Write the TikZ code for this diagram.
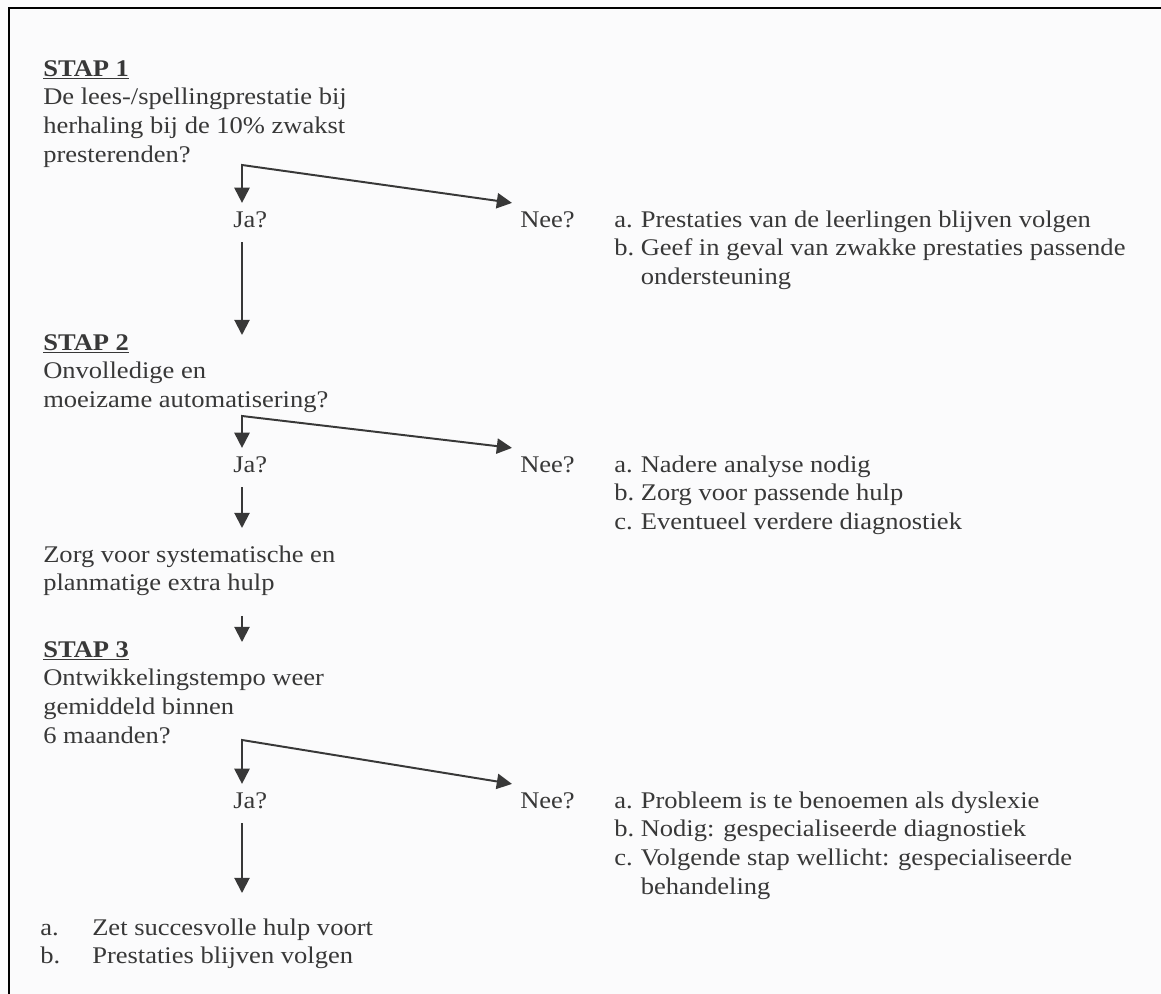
\documentclass[tikz,border=0pt]{standalone}
\usepackage{fontspec}
\setmainfont{Liberation Serif}[FakeStretch=1.11]
\usetikzlibrary{arrows.meta}
\definecolor{Ink}{HTML}{383838}
\definecolor{Paper}{HTML}{FBFBFC}
\newcommand{\rows}[1]{\begin{tabular}[t]{@{}l@{}}#1\end{tabular}}
\newcommand{\items}[1]{\begin{tabular}[t]{@{}l@{\ }l@{}}#1\end{tabular}}
\newcommand{\stap}[1]{\textbf{\underline{STAP #1}}}

\begin{document}
\begin{tikzpicture}[
  font=\fontsize{17}{20.6}\selectfont,
  txt/.style={anchor=base west,inner sep=0pt,text=Ink},
  jn/.style={anchor=base west,inner sep=0.2cm,text depth=0.18cm,text=Ink},
  ar/.style={-{Triangle[length=0.38cm,width=0.38cm]},line width=1.4pt,draw=Ink},
  fork/.style={{Triangle[length=0.38cm,width=0.38cm]}-{Triangle[length=0.38cm,width=0.38cm]},
               line width=1.4pt,draw=Ink,line join=miter},
]
\useasboundingbox (0,0) rectangle (29.025,-24.85);
\fill[Paper] (0,0) rectangle (29.025,-24.85);
\draw[line width=1.4pt,black] (0.225,-24.85) -- (0.225,-0.2) -- (29.025,-0.2);

% stap 1
\node[txt] (s1) at (1.075,-1.9) {\rows{\stap{1}\\ De lees-/spellingprestatie bij\\
  herhaling bij de 10\% zwakst\\ presterenden?}};
\coordinate (c1) at (6.05,-4.125);
\node[jn] (ja1) at (5.625,-5.675) {Ja?};
\node[jn] (nee1) at (12.8,-5.675) {Nee?};
\node[txt] (no1) at (15.35,-5.675) {\items{a. & Prestaties van de leerlingen blijven volgen\\
  b. & Geef in geval van zwakke prestaties passende\\ & ondersteuning}};
\draw[fork] (ja1.north -| c1) -- (c1) -- (nee1.north west);
\coordinate (e1) at (6.05,-8.375);
\draw[ar] (ja1.south -| c1) -- (e1);

% stap 2
\node[txt] (s2) at (1.075,-8.75) {\rows{\stap{2}\\ Onvolledige en\\ moeizame automatisering?}};
\coordinate (c2) at (6.05,-10.4);
\node[jn] (ja2) at (5.625,-11.8) {Ja?};
\node[jn] (nee2) at (12.8,-11.8) {Nee?};
\node[txt] (no2) at (15.35,-11.8) {\items{a. & Nadere analyse nodig\\
  b. & Zorg voor passende hulp\\ c. & Eventueel verdere diagnostiek}};
\draw[fork] (ja2.north -| c2) -- (c2) -- (nee2.north west);
\coordinate (e2) at (6.05,-13.2);
\draw[ar] (ja2.south -| c2) -- (e2);
\node[txt] (zorg) at (1.075,-14.05) {\rows{Zorg voor systematische en\\ planmatige extra hulp}};
\coordinate (e3) at (6.05,-16.05);
\draw[ar,shorten <=0.4cm] (zorg.south -| e3) -- (e3);

% stap 3
\node[txt] (s3) at (1.075,-16.425) {\rows{\stap{3}\\ Ontwikkelingstempo weer\\
  gemiddeld binnen\\ 6 maanden?}};
\coordinate (c3) at (6.05,-18.5);
\node[jn] (ja3) at (5.625,-20.2) {Ja?};
\node[jn] (nee3) at (12.8,-20.2) {Nee?};
\node[txt] (no3) at (15.35,-20.2) {\items{a. & Probleem is te benoemen als dyslexie\\
  b. & Nodig: gespecialiseerde diagnostiek\\ c. & Volgende stap wellicht: gespecialiseerde\\
  & behandeling}};
\draw[fork] (ja3.north -| c3) -- (c3) -- (nee3.north west);
\coordinate (e4) at (6.05,-22.325);
\draw[ar] (ja3.south -| c3) -- (e4);
\node[txt] (out) at (1.0,-23.375) {\begin{tabular}[t]{@{}p{1.3cm}@{}l@{}}
  a. & Zet succesvolle hulp voort\\ b. & Prestaties blijven volgen\end{tabular}};
\end{tikzpicture}
\end{document}
